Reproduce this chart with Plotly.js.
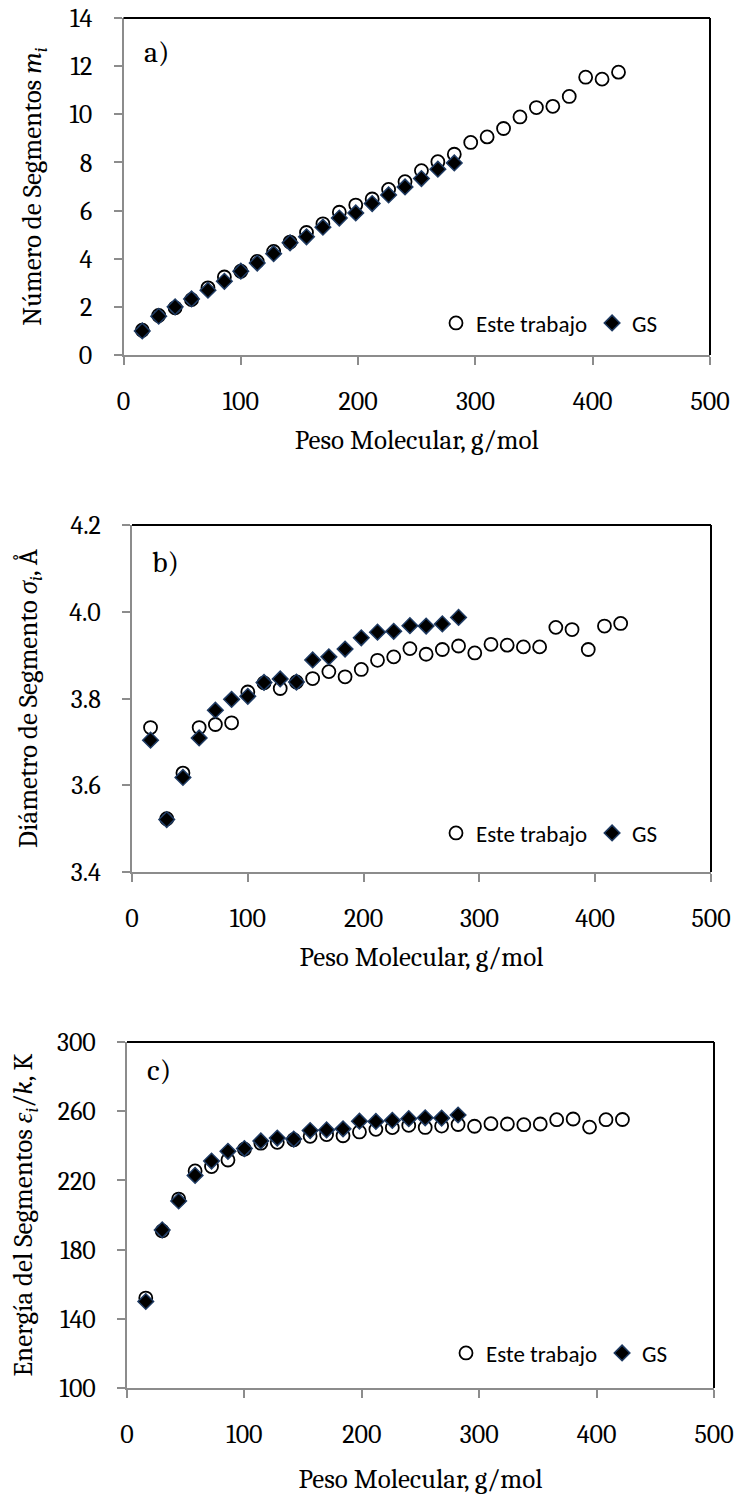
<!DOCTYPE html>
<html>
<head>
<meta charset="utf-8">
<script src="https://cdn.plot.ly/plotly-3.0.1.min.js"></script>
<style>html,body{margin:0;padding:0;background:#fff;}#chart{width:737px;height:1496px;}</style>
</head>
<body>
<div id="chart"></div>
<script>
// Molecular weight (g/mol) of n-alkanes C1..C30
const mw = [16,30,44,58,72,86,100,114,128,142,156,170,184,198,212,226,240,254,268,282,296,310,324,338,352,366,380,394,408,422];
const mwGS = [16,30,44,58,72,86,100,114,128,142,156,170,184,198,212,226,240,254,268,282];

// a) segment number
const mEste = [1.03,1.64,1.96,2.30,2.79,3.24,3.48,3.89,4.30,4.69,5.09,5.45,5.93,6.23,6.48,6.88,7.20,7.66,8.03,8.34,8.83,9.06,9.41,9.89,10.28,10.33,10.74,11.54,11.46,11.75];
const mGS = [1.00,1.61,2.00,2.33,2.69,3.06,3.48,3.82,4.21,4.66,4.91,5.31,5.69,5.90,6.29,6.65,6.98,7.33,7.72,7.98];

// b) segment diameter
const sigmaEste = [3.733,3.523,3.628,3.733,3.740,3.744,3.815,3.836,3.823,3.838,3.846,3.862,3.850,3.867,3.888,3.896,3.915,3.902,3.913,3.921,3.905,3.925,3.923,3.919,3.919,3.964,3.959,3.913,3.967,3.973];
const sigmaGS = [3.704,3.521,3.618,3.709,3.773,3.798,3.805,3.837,3.845,3.838,3.889,3.896,3.914,3.940,3.953,3.955,3.968,3.967,3.972,3.987];

// c) segment energy
const epsEste = [152.0,190.8,209.2,225.5,228.0,231.8,238.0,241.5,242.0,243.5,245.5,246.5,245.8,248.0,249.5,250.5,251.8,250.6,251.4,252.3,251.3,252.8,252.6,252.2,252.6,255.1,255.5,250.8,255.1,255.2];
const epsGS = [150.0,191.4,208.1,222.9,231.2,236.8,238.4,242.8,244.5,243.9,248.8,249.2,249.8,254.2,254.1,254.7,255.7,256.2,256.0,257.8];

const seriesNames = ['Este trabajo','GS'];
const xTitle = 'Peso Molecular, g/mol';
const yTitles = ['Número de Segmentos <i>m<sub>i</sub></i>',
                 'Diámetro de Segmento <i>σ<sub>i</sub></i>, Å',
                 'Energía del Segmentos <i>ε<sub>i</sub></i>/<i>k</i>, K'];
const panelLabels = ['a)','b)','c)'];
const yRanges = [[0,14],[3.4,4.2],[100,300]];
const yTick0 = [0,3.4,100];
const yDtick = [2,0.2,40];

const W = 737, H = 1496;
const SERIF = 'Cambria, "Liberation Serif", "DejaVu Serif", serif';
const SANS = 'Calibri, Carlito, Lato, "Liberation Sans", sans-serif';

// pixel boxes of the three plot areas [left, right, top, bottom]
const boxes = [[123.5,710,18,355],[132,711,525,872],[127,714,1042,1388]];
const legendY = [323,833,1353];
const legendX = [436,436,446];
const labelDY = [35,37,28];
const yStandoff = [20,24,16];
const xStandoff = [14,14,20];

const circle = {symbol:'circle-open', size:13, color:'#000', line:{width:1.8,color:'#000'}};
const diamond = {symbol:'diamond', size:12, color:'#000', line:{width:1.5,color:'#1f3b63'}};

const ySets = [[mEste,mGS],[sigmaEste,sigmaGS],[epsEste,epsGS]];
const traces = [];
ySets.forEach((pair,i)=>{
  const sfx = i===0?'':String(i+1);
  const lg = 'legend'+sfx;
  traces.push({x:mw, y:pair[0], type:'scatter', mode:'markers', name:seriesNames[0],
    xaxis:'x'+sfx, yaxis:'y'+sfx, legend:lg, marker:circle, cliponaxis:false});
  traces.push({x:mwGS, y:pair[1], type:'scatter', mode:'markers', name:seriesNames[1],
    xaxis:'x'+sfx, yaxis:'y'+sfx, legend:lg, marker:diamond, cliponaxis:false});
});

const yFmt = ['d','.1f','d'];

const layout = {
  width:W, height:H, margin:{l:0,r:0,t:0,b:0}, paper_bgcolor:'#fff', plot_bgcolor:'#fff',
  showlegend:true, shapes:[], annotations:[]
};

boxes.forEach((b,i)=>{
  const sfx = i===0?'':String(i+1);
  const axCommon = {showline:true, linecolor:'#8c8c8c', linewidth:2, ticks:'outside', ticklen:8,
    tickwidth:2, tickcolor:'#8c8c8c', showgrid:false, zeroline:false, mirror:false,
    tickfont:{family:SERIF, size:26, color:'#000'}, fixedrange:true};
  layout['xaxis'+sfx] = Object.assign({}, axCommon, {
    domain:[b[0]/W, b[1]/W], anchor:'y'+sfx, range:[0,500], dtick:100, tick0:0,
    ticklabelstandoff:14,
    title:{text:xTitle, font:{family:SERIF, size:27, color:'#000'}, standoff:xStandoff[i]}
  });
  layout['yaxis'+sfx] = Object.assign({}, axCommon, {
    domain:[1-b[3]/H, 1-b[2]/H], anchor:'x'+sfx, range:yRanges[i], dtick:yDtick[i], tick0:yTick0[i],
    tickformat:yFmt[i], ticklabelstandoff:16,
    title:{text:yTitles[i], font:{family:SERIF, size:27, color:'#000'}, standoff:yStandoff[i]}
  });
  // black top and right frame lines
  layout.shapes.push({type:'line', xref:'x'+sfx+' domain', yref:'y'+sfx+' domain', x0:0, x1:1, y0:1, y1:1, line:{color:'#000', width:2}});
  layout.shapes.push({type:'line', xref:'x'+sfx+' domain', yref:'y'+sfx+' domain', x0:1, x1:1, y0:0, y1:1, line:{color:'#000', width:2}});
  layout.annotations.push({text:panelLabels[i], xref:'paper', yref:'paper', x:(b[0]+18)/W, y:1-(b[2]+labelDY[i])/H,
    xanchor:'left', yanchor:'middle', showarrow:false, font:{family:SERIF, size:30, color:'#000'}});
  layout['legend'+sfx] = {x:legendX[i]/W, y:1-legendY[i]/H, xanchor:'left', yanchor:'middle',
    orientation:'h', bgcolor:'rgba(0,0,0,0)', borderwidth:0, itemwidth:30, tracegroupgap:0,
    font:{family:SANS, size:23, color:'#000'}, itemclick:false, itemdoubleclick:false};
});

Plotly.newPlot('chart', traces, layout, {staticPlot:true, displayModeBar:false});
</script>
</body>
</html>
